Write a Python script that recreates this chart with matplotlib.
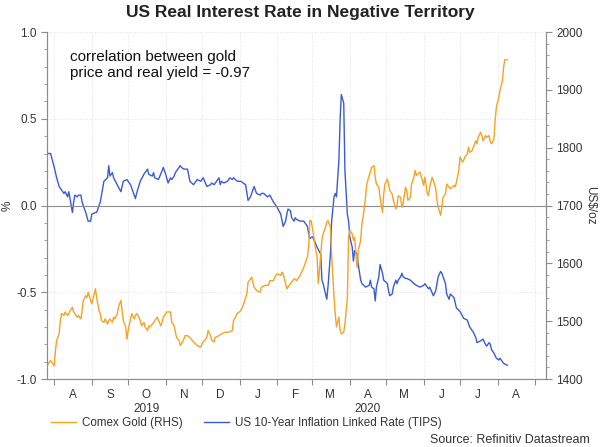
import pandas as pd
import matplotlib
matplotlib.use("Agg")
import matplotlib.pyplot as plt
import matplotlib.dates as mdates
from matplotlib.ticker import MultipleLocator, NullFormatter, FuncFormatter

plt.rcParams['font.family'] = ['Liberation Sans', 'DejaVu Sans']
plt.rcParams['axes.unicode_minus'] = False

start = pd.Timestamp("2019-07-26")

tips_day = [0, 3, 6, 8, 10, 12, 14, 15, 17, 18, 21, 22, 23, 25, 26, 28, 29, 32, 34, 36,
            37, 40, 41, 44, 47, 50, 51, 52, 54, 55, 58, 61, 63, 66, 69, 72, 73, 74, 77, 80,
            83, 84, 87, 88, 89, 92, 95, 96, 98, 100, 102, 103, 105, 106, 107, 109, 110, 111, 113, 116,
            118, 121, 124, 127, 129, 132, 135, 136, 138, 140, 142, 143, 144, 146, 149, 151, 153, 154, 157, 160,
            162, 164, 166, 168, 171, 173, 176, 177, 179, 182, 184, 187, 190, 193, 195, 197, 198, 199, 201, 202,
            204, 205, 206, 209, 212, 215, 216, 217, 219, 220, 223, 226, 227, 228, 230, 231, 232, 234, 235, 237,
            238, 239, 241, 242, 243, 245, 246, 248, 249, 250, 252, 253, 254, 256, 257, 259, 260, 263, 266, 267,
            268, 270, 271, 272, 274, 275, 277, 278, 281, 282, 283, 285, 286, 288, 289, 290, 292, 293, 294, 296,
            297, 300, 303, 305, 308, 311, 312, 314, 315, 316, 319, 321, 322, 323, 325, 326, 327, 329, 330, 332,
            333, 336, 338, 341, 344, 347, 349, 351, 352, 354, 355, 358, 360, 362, 363, 365, 366, 367, 369, 371,
            373, 374, 376, 377, 380]
tips_rate = [0.30, 0.30, 0.22, 0.16, 0.11, 0.09, 0.07, 0.08, 0.05, 0.08, -0.04, 0.02, 0.06, 0.05, 0.06, 0.06, 0.02, -0.04, -0.09, -0.09,
             -0.05, -0.04, -0.04, 0.02, 0.14, 0.16, 0.23, 0.17, 0.19, 0.16, 0.12, 0.08, 0.14, 0.15, 0.12, 0.06, 0.04, 0.07, 0.14, 0.18,
             0.21, 0.18, 0.17, 0.19, 0.16, 0.15, 0.20, 0.22, 0.18, 0.13, 0.16, 0.15, 0.17, 0.19, 0.20, 0.22, 0.23, 0.22, 0.21, 0.21,
             0.14, 0.12, 0.15, 0.14, 0.16, 0.11, 0.12, 0.13, 0.12, 0.14, 0.16, 0.12, 0.14, 0.13, 0.14, 0.16, 0.15, 0.16, 0.14, 0.14,
             0.13, 0.12, 0.03, 0.05, 0.11, 0.07, 0.06, 0.07, 0.07, 0.05, 0.06, 0.02, -0.01, -0.05, -0.12, -0.09, -0.05, -0.02, -0.03, -0.07,
             -0.09, -0.07, -0.08, -0.09, -0.09, -0.12, -0.16, -0.19, -0.18, -0.19, -0.24, -0.28, -0.43, -0.45, -0.51, -0.54, -0.47, -0.28, -0.09, 0.05,
             0.07, 0.05, 0.26, 0.49, 0.64, 0.59, 0.20, -0.05, -0.09, -0.18, -0.24, -0.32, -0.26, -0.28, -0.34, -0.43, -0.45, -0.47, -0.46, -0.43,
             -0.47, -0.48, -0.55, -0.47, -0.41, -0.34, -0.39, -0.43, -0.45, -0.49, -0.52, -0.51, -0.47, -0.43, -0.45, -0.43, -0.41, -0.39, -0.41, -0.42,
             -0.42, -0.43, -0.45, -0.46, -0.47, -0.46, -0.45, -0.47, -0.48, -0.47, -0.52, -0.49, -0.45, -0.41, -0.38, -0.39, -0.41, -0.45, -0.51, -0.54,
             -0.51, -0.53, -0.59, -0.61, -0.65, -0.66, -0.70, -0.72, -0.73, -0.76, -0.79, -0.78, -0.77, -0.80, -0.81, -0.79, -0.80, -0.83, -0.85, -0.88,
             -0.89, -0.88, -0.90, -0.91, -0.92]

gold_day = [0, 1, 3, 4, 6, 7, 8, 10, 11, 12, 14, 15, 17, 18, 19, 21, 22, 23, 25, 26,
            28, 29, 30, 32, 33, 34, 36, 37, 39, 40, 41, 43, 44, 45, 47, 48, 50, 51, 52, 54,
            55, 56, 58, 59, 61, 62, 63, 65, 66, 67, 69, 70, 72, 73, 74, 76, 77, 78, 80, 81,
            83, 84, 85, 87, 88, 91, 94, 95, 96, 98, 99, 102, 103, 105, 106, 107, 109, 110, 111, 113,
            114, 116, 118, 121, 124, 127, 128, 129, 132, 133, 135, 136, 138, 139, 142, 144, 147, 150, 153, 154,
            155, 157, 160, 162, 165, 166, 168, 169, 171, 173, 176, 177, 180, 183, 184, 187, 188, 190, 193, 194,
            195, 197, 198, 199, 201, 204, 205, 206, 209, 212, 215, 216, 217, 218, 219, 220, 221, 223, 224, 226,
            227, 228, 230, 231, 232, 234, 235, 237, 238, 239, 241, 242, 243, 245, 246, 248, 249, 250, 252, 253,
            254, 256, 257, 259, 260, 261, 263, 264, 266, 267, 268, 270, 271, 272, 274, 275, 277, 278, 279, 281,
            282, 283, 285, 286, 288, 289, 290, 292, 293, 294, 296, 297, 298, 300, 301, 303, 304, 305, 308, 310,
            311, 312, 314, 315, 316, 318, 319, 321, 322, 323, 325, 326, 327, 329, 330, 332, 333, 336, 337, 338,
            340, 341, 343, 344, 345, 347, 348, 349, 351, 352, 354, 355, 356, 358, 359, 360, 362, 363, 365, 366,
            367, 369, 370, 371, 373, 374, 376, 377, 378, 380]
gold_price = [1423, 1426, 1432, 1429, 1423, 1449, 1467, 1478, 1501, 1513, 1510, 1516, 1510, 1513, 1518, 1524, 1516, 1513, 1507, 1510,
              1504, 1518, 1536, 1544, 1541, 1550, 1536, 1530, 1547, 1556, 1541, 1518, 1513, 1501, 1498, 1504, 1495, 1501, 1504, 1498,
              1507, 1504, 1513, 1524, 1536, 1518, 1501, 1490, 1469, 1484, 1504, 1513, 1504, 1510, 1513, 1507, 1501, 1492, 1498, 1490,
              1484, 1492, 1490, 1495, 1498, 1507, 1492, 1498, 1507, 1513, 1516, 1516, 1498, 1492, 1481, 1472, 1467, 1458, 1461, 1469,
              1475, 1475, 1472, 1464, 1458, 1455, 1461, 1464, 1472, 1484, 1475, 1467, 1464, 1472, 1475, 1478, 1481, 1481, 1484, 1501,
              1504, 1513, 1518, 1527, 1547, 1567, 1573, 1576, 1559, 1553, 1550, 1559, 1562, 1562, 1570, 1570, 1576, 1582, 1579, 1585,
              1582, 1565, 1556, 1559, 1565, 1573, 1573, 1570, 1579, 1593, 1611, 1628, 1674, 1674, 1663, 1651, 1634, 1611, 1565, 1616,
              1640, 1651, 1663, 1671, 1674, 1663, 1616, 1541, 1513, 1490, 1507, 1484, 1478, 1481, 1495, 1541, 1645, 1657, 1651, 1640,
              1645, 1593, 1622, 1640, 1668, 1680, 1714, 1737, 1752, 1758, 1766, 1769, 1749, 1737, 1732, 1714, 1688, 1720, 1737, 1746,
              1737, 1726, 1720, 1709, 1694, 1700, 1717, 1714, 1697, 1703, 1732, 1726, 1709, 1714, 1737, 1749, 1761, 1752, 1758, 1743,
              1735, 1749, 1720, 1717, 1732, 1749, 1743, 1729, 1709, 1697, 1683, 1697, 1714, 1720, 1737, 1732, 1729, 1735, 1732, 1740,
              1761, 1784, 1775, 1778, 1784, 1789, 1801, 1792, 1795, 1801, 1812, 1807, 1818, 1827, 1821, 1812, 1821, 1818, 1821, 1810,
              1807, 1815, 1847, 1870, 1887, 1899, 1916, 1939, 1952, 1952]

tips_dates = start + pd.to_timedelta(tips_day, unit="D")
gold_dates = start + pd.to_timedelta(gold_day, unit="D")

gold_col = "#F5A323"
tips_col = "#3A5BD8"
grey = "#8C8C8C"
txt = "#333333"

fig = plt.figure(figsize=(6, 4.47), dpi=100)
ax = fig.add_axes([0.0783, 0.152, 0.8317, 0.7763])
ax2 = ax.twinx()

ax.plot(tips_dates, tips_rate, color=tips_col, lw=1.0, label="US 10-Year Inflation Linked Rate (TIPS)")
ax2.plot(gold_dates, gold_price, color=gold_col, lw=1.0, label="Comex Gold (RHS)")
ax.axhline(0, color=grey, lw=0.8)

ax.set_xlim(pd.Timestamp("2019-07-26"), pd.Timestamp("2020-09-10"))
ax.set_ylim(-1, 1)
ax2.set_ylim(1400, 2000)
ax.yaxis.set_major_locator(MultipleLocator(0.5))
ax.yaxis.set_minor_locator(MultipleLocator(0.1))
ax.yaxis.set_major_formatter(FuncFormatter(lambda v, p: f"{v:.1f}"))
ax2.yaxis.set_major_locator(MultipleLocator(100))
ax2.yaxis.set_minor_locator(MultipleLocator(20))

# month boundaries get the ticks, month letters sit in the middle
ax.xaxis.set_major_locator(mdates.MonthLocator())
ax.xaxis.set_major_formatter(NullFormatter())
ax.xaxis.set_minor_locator(mdates.MonthLocator(bymonthday=16))
ax.xaxis.set_minor_formatter(FuncFormatter(lambda v, p: mdates.num2date(v).strftime("%b")[0]))
ax.tick_params(axis="both", which="both", labelsize=8.5, labelcolor=txt, colors=grey)
ax2.tick_params(axis="y", which="both", labelsize=8.5, labelcolor=txt, colors=grey)
ax.tick_params(axis="x", which="minor", length=0, pad=7)
ax.tick_params(axis="x", which="major", length=4)
ax.tick_params(axis="y", which="major", length=4)
ax.tick_params(axis="y", which="minor", length=2)
ax2.tick_params(axis="y", which="major", length=4)
ax2.tick_params(axis="y", which="minor", length=2)

ax.grid(True, which="major", color="#D9D9D9", lw=0.6, ls=(0, (1, 2)))

for a in (ax, ax2):
    a.spines["top"].set_visible(False)
    for s in ("left", "right", "bottom"):
        a.spines[s].set_color(grey)
        a.spines[s].set_linewidth(0.8)

# year labels centred under their month letters
yr_tf = ax.get_xaxis_transform()
ax.text(pd.Timestamp("2019-10-16"), -0.087, "2019", transform=yr_tf, ha="center", va="center",
        fontsize=8.5, color=txt)
ax.text(pd.Timestamp("2020-04-16"), -0.087, "2020", transform=yr_tf, ha="center", va="center",
        fontsize=8.5, color=txt)

ax.set_ylabel("%", fontsize=8.5, color=txt)
ax.yaxis.set_label_coords(-0.066, 0.5)
ax2.set_ylabel("US$/oz", fontsize=8.5, color=txt, rotation=270, va="center")
ax2.yaxis.set_label_coords(1.089, 0.5)

ax.text(0.046, 0.949, "correlation between gold\nprice and real yield = -0.97", transform=ax.transAxes,
        ha="left", va="top", fontsize=11, color="#111111", linespacing=1.2)

fig.text(0.5, 0.972, "US Real Interest Rate in Negative Territory", ha="center", va="center",
         fontsize=12.5, fontweight="bold", color="#222222")

h1, l1 = ax2.get_legend_handles_labels()
h2, l2 = ax.get_legend_handles_labels()
fig.legend(h1 + h2, l1 + l2, loc="center left", bbox_to_anchor=(0.068, 0.054), ncol=2, frameon=False,
           fontsize=8.4, handlelength=2.1, handletextpad=0.5, columnspacing=1.9, labelcolor=txt)

fig.text(0.983, 0.016, "Source: Refinitiv Datastream", ha="right", va="center", fontsize=9, color=txt)

fig.savefig("out.png", dpi=100)
